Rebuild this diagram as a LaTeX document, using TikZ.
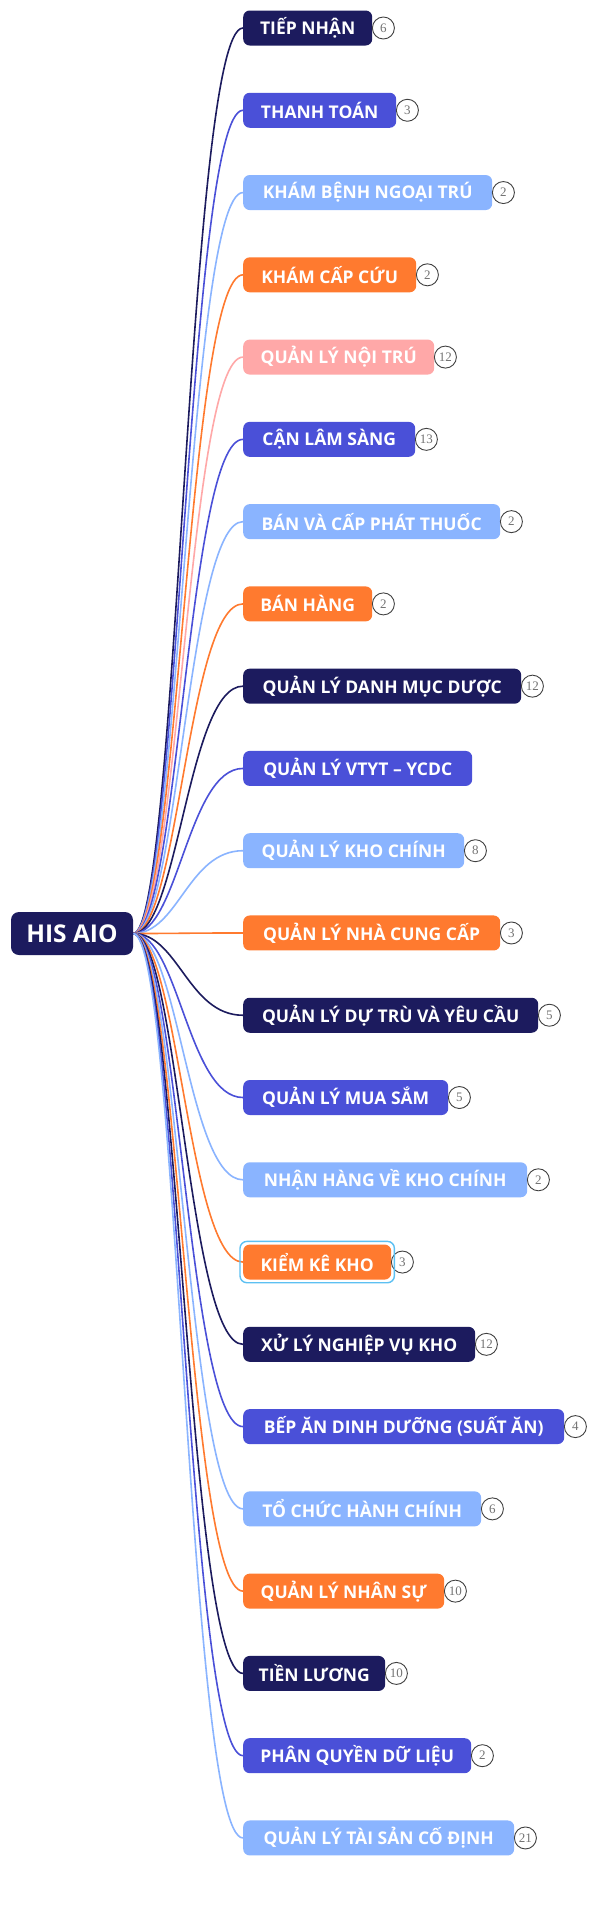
\documentclass[tikz,border=0pt]{standalone}
\usepackage{fontspec}
\setmainfont{Open Sans}
\newfontfamily\numfont{Liberation Serif}
\usetikzlibrary{backgrounds}
\definecolor{cnavy}{HTML}{1C1B5E}
\definecolor{cblue}{HTML}{4A50D8}
\definecolor{clight}{HTML}{8AB4FF}
\definecolor{corange}{HTML}{FF7A2F}
\definecolor{cpink}{HTML}{FFA8A8}
\definecolor{csel}{HTML}{5CC0F2}
\tikzset{
  leaf/.style={anchor=west, rounded corners=6.5pt, minimum height=35pt, inner ysep=0pt, inner xsep=0pt,
    text=white, font=\fontsize{17.5}{20}\selectfont\bfseries},
  rootbox/.style={rounded corners=8pt, minimum width=122pt, minimum height=43pt, inner sep=0pt,
    fill=cnavy, text=white, font=\fontsize{24.5}{28}\selectfont\bfseries},
  edge/.style={line width=1.6pt},
  cnt/.style={circle, draw=black!75, line width=0.9pt, fill=white, minimum size=22pt, inner sep=0pt,
    text=black!55, font=\numfont\fontsize{13}{14}\selectfont},
}
\newcommand\hisbranch[5]{%
  \node[leaf, fill=#3, minimum width=#4pt] (n#1) at (243, {28+(#1-1)*82.27}) {#2};
  \begin{pgfonlayer}{background}
  \draw[edge, #3] (root.east) .. controls +(45,0) and +(-55,0) .. (n#1.west);
  \end{pgfonlayer}
  \if\relax\detokenize{#5}\relax\else\node[cnt] (c#1) at ([xshift=11pt]n#1.east) {#5};\fi
}
\begin{document}
\begin{tikzpicture}[x=1pt,y=-1pt]
\begin{pgfonlayer}{background}
\fill[white] (0,0) rectangle (597,1920);
\end{pgfonlayer}
\useasboundingbox (0,0) rectangle (597,1920);
\node[rootbox] (root) at (72,933.5) {HIS AIO};
\hisbranch{1}{TIẾP NHẬN}{cnavy}{129}{6}
\hisbranch{2}{THANH TOÁN}{cblue}{153}{3}
\hisbranch{3}{KHÁM BỆNH NGOẠI TRÚ}{clight}{249}{2}
\hisbranch{4}{KHÁM CẤP CỨU}{corange}{173}{2}
\hisbranch{5}{QUẢN LÝ NỘI TRÚ}{cpink}{191}{12}
\hisbranch{6}{CẬN LÂM SÀNG}{cblue}{172}{13}
\hisbranch{7}{BÁN VÀ CẤP PHÁT THUỐC}{clight}{257}{2}
\hisbranch{8}{BÁN HÀNG}{corange}{129}{2}
\hisbranch{9}{QUẢN LÝ DANH MỤC DƯỢC}{cnavy}{278}{12}
\hisbranch{10}{QUẢN LÝ VTYT – YCDC}{cblue}{229}{}
\hisbranch{11}{QUẢN LÝ KHO CHÍNH}{clight}{221}{8}
\hisbranch{12}{QUẢN LÝ NHÀ CUNG CẤP}{corange}{257}{3}
\hisbranch{13}{QUẢN LÝ DỰ TRÙ VÀ YÊU CẦU}{cnavy}{295}{5}
\hisbranch{14}{QUẢN LÝ MUA SẮM}{cblue}{205}{5}
\hisbranch{15}{NHẬN HÀNG VỀ KHO CHÍNH}{clight}{284}{2}
\hisbranch{16}{KIỂM KÊ KHO}{corange}{148}{3}
\hisbranch{17}{XỬ LÝ NGHIỆP VỤ KHO}{cnavy}{232}{12}
\hisbranch{18}{BẾP ĂN DINH DƯỠNG (SUẤT ĂN)}{cblue}{321}{4}
\hisbranch{19}{TỔ CHỨC HÀNH CHÍNH}{clight}{238}{6}
\hisbranch{20}{QUẢN LÝ NHÂN SỰ}{corange}{201}{10}
\hisbranch{21}{TIỀN LƯƠNG}{cnavy}{142}{10}
\hisbranch{22}{PHÂN QUYỀN DỮ LIỆU}{cblue}{228}{2}
\hisbranch{23}{QUẢN LÝ TÀI SẢN CỐ ĐỊNH}{clight}{271}{21}
\draw[csel, line width=1.4pt, rounded corners=7pt] ([shift={(-3,-3)}]n16.north west) rectangle ([shift={(3,3)}]n16.south east);
\end{tikzpicture}
\end{document}
